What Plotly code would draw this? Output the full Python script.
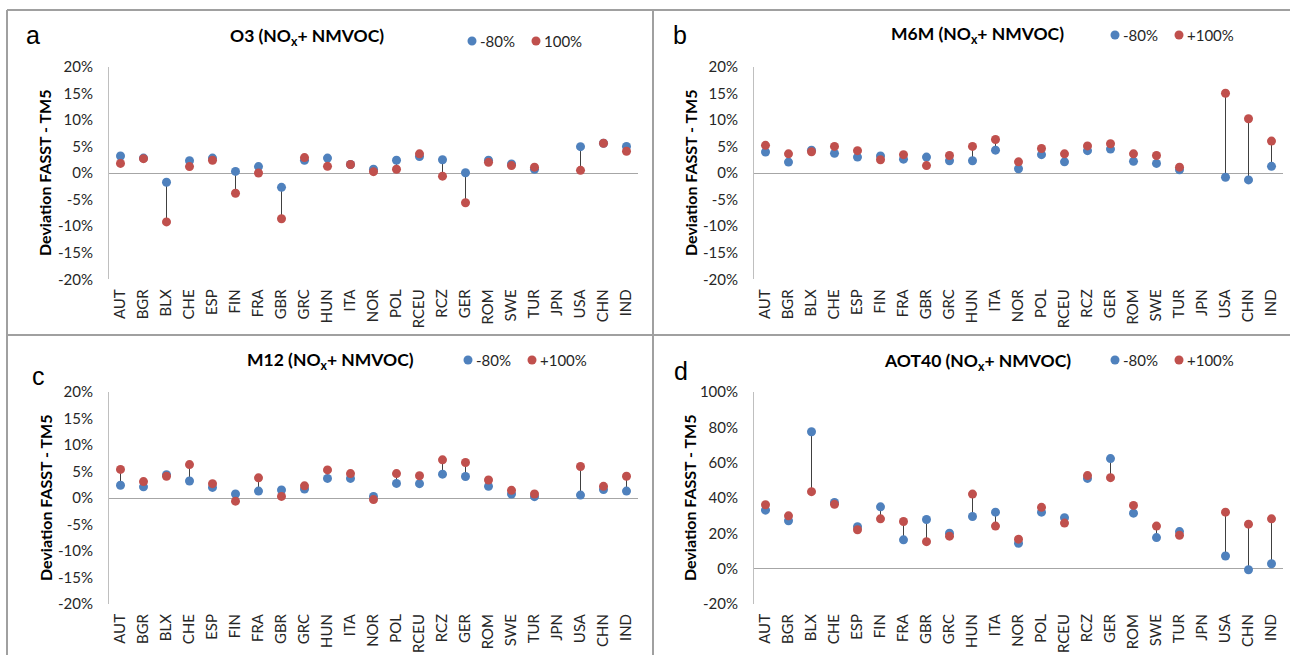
import plotly.graph_objects as go

# Regions on the category axis
regions = ["AUT", "BGR", "BLX", "CHE", "ESP", "FIN", "FRA", "GBR", "GRC", "HUN", "ITA",
           "NOR", "POL", "RCEU", "RCZ", "GER", "ROM", "SWE", "TUR", "JPN", "USA", "CHN", "IND"]

# Deviation FASST - TM5 (%) for the -80% and +100% NOx + NMVOC emission perturbations
o3_minus80 = [3.2, 2.8, -1.75, 2.3, 2.8, 0.3, 1.2, -2.7, 2.4, 2.8, 1.6,
              0.7, 2.4, 3.1, 2.5, 0.05, 2.4, 1.7, 0.7, None, 4.95, 5.6, 5.0]
o3_plus100 = [1.8, 2.7, -9.2, 1.2, 2.4, -3.8, 0.0, -8.6, 2.9, 1.25, 1.6,
              0.25, 0.7, 3.6, -0.6, -5.6, 2.0, 1.4, 1.1, None, 0.5, 5.6, 4.1]

m6m_minus80 = [3.95, 2.05, 4.3, 3.7, 3.0, 3.2, 2.6, 3.0, 2.3, 2.3, 4.3,
               0.8, 3.45, 2.1, 4.2, 4.5, 2.2, 1.8, 0.6, None, -0.8, -1.3, 1.25]
m6m_plus100 = [5.2, 3.6, 4.0, 5.0, 4.2, 2.5, 3.45, 1.4, 3.3, 5.0, 6.3,
               2.1, 4.6, 3.6, 5.1, 5.5, 3.6, 3.3, 1.1, None, 15.0, 10.2, 6.0]

m12_minus80 = [2.4, 2.1, 4.4, 3.2, 2.0, 0.75, 1.3, 1.5, 1.7, 3.7, 3.7,
               0.3, 2.75, 2.7, 4.5, 4.05, 2.2, 0.75, 0.25, None, 0.55, 1.6, 1.3]
m12_plus100 = [5.4, 3.1, 4.1, 6.3, 2.7, -0.6, 3.8, 0.3, 2.3, 5.3, 4.6,
               -0.3, 4.6, 4.2, 7.2, 6.7, 3.4, 1.45, 0.75, None, 5.95, 2.2, 4.1]

aot40_minus80 = [33.1, 27.1, 77.5, 37.5, 23.7, 35.0, 16.3, 27.8, 20.1, 29.5, 32.0,
                 14.4, 32.0, 28.8, 51.1, 62.3, 31.4, 17.6, 21.0, None, 7.2, -0.6, 2.8]
aot40_plus100 = [36.2, 29.9, 43.6, 36.4, 22.0, 28.2, 26.7, 15.3, 18.4, 42.2, 24.1,
                 16.7, 34.7, 25.8, 52.7, 51.5, 35.8, 24.1, 18.9, None, 32.0, 25.2, 28.2]

# Y-axis tick values (%)
pct_ticks = [-20, -15, -10, -5, 0, 5, 10, 15, 20]
aot_ticks = [-20, 0, 20, 40, 60, 80, 100]

W, H = 1290, 655
BLUE = "#4F81BD"
RED = "#C0504D"
TXT = "#262626"
TICK_FONT = dict(family="Lato", size=15, color=TXT)


def fx(p):
    return p / W


def fy(p):
    return 1 - p / H


panels = [
    dict(letter="a", title="O3 (NO<sub>x</sub>+ NMVOC)", lo=o3_minus80, hi=o3_plus100,
         hi_name="100%", ticks=pct_ticks, x0=109, x1=638, y0=66.7, y1=279.3,
         letter_xy=(24, 35), title_xy=(307, 37), legend_xy=(472, 41), ytitle_x=45),
    dict(letter="b", title="M6M (NO<sub>x</sub>+ NMVOC)", lo=m6m_minus80, hi=m6m_plus100,
         hi_name="+100%", ticks=pct_ticks, x0=754, x1=1283, y0=66.7, y1=279.3,
         letter_xy=(671, 35), title_xy=(977, 35), legend_xy=(1115, 35), ytitle_x=691),
    dict(letter="c", title="M12 (NO<sub>x</sub>+ NMVOC)", lo=m12_minus80, hi=m12_plus100,
         hi_name="+100%", ticks=pct_ticks, x0=109, x1=638, y0=392, y1=604,
         letter_xy=(30, 376), title_xy=(330, 361), legend_xy=(468, 360), ytitle_x=45),
    dict(letter="d", title="AOT40 (NO<sub>x</sub>+ NMVOC)", lo=aot40_minus80, hi=aot40_plus100,
         hi_name="+100%", ticks=aot_ticks, x0=754, x1=1283, y0=392, y1=604,
         letter_xy=(672, 371), title_xy=(977, 362), legend_xy=(1115, 360), ytitle_x=689),
]

fig = go.Figure()
annotations = []
shapes = []

for i, p in enumerate(panels, start=1):
    xa = "x" if i == 1 else f"x{i}"
    ya = "y" if i == 1 else f"y{i}"

    # high-low connector between the two perturbation results
    lx, ly = [], []
    for r, a, b in zip(regions, p["lo"], p["hi"]):
        if a is None or b is None:
            continue
        lx += [r, r, None]
        ly += [a, b, None]
    fig.add_trace(go.Scatter(x=lx, y=ly, mode="lines", xaxis=xa, yaxis=ya,
                             line=dict(color="#404040", width=1), showlegend=False,
                             hoverinfo="skip"))
    fig.add_trace(go.Scatter(x=regions, y=p["lo"], mode="markers", name="-80%",
                             xaxis=xa, yaxis=ya, showlegend=False,
                             marker=dict(color=BLUE, size=9)))
    fig.add_trace(go.Scatter(x=regions, y=p["hi"], mode="markers", name=p["hi_name"],
                             xaxis=xa, yaxis=ya, showlegend=False,
                             marker=dict(color=RED, size=9)))

    xkey = "xaxis" if i == 1 else f"xaxis{i}"
    ykey = "yaxis" if i == 1 else f"yaxis{i}"
    fig.update_layout({
        xkey: dict(domain=[fx(p["x0"]), fx(p["x1"])], anchor=ya, type="category",
                   categoryorder="array", categoryarray=regions, automargin=False,
                   range=[-0.5, len(regions) - 0.5], showgrid=False, zeroline=False,
                   showline=False, ticks="", tickangle=-90, tickfont=TICK_FONT,
                   ticklabelstandoff=6),
        ykey: dict(domain=[fy(p["y1"]), fy(p["y0"])], anchor=xa, automargin=False,
                   range=[p["ticks"][0], p["ticks"][-1]], tickvals=p["ticks"],
                   ticktext=[f"{v}%" for v in p["ticks"]], showgrid=False,
                   zeroline=True, zerolinecolor="#A6A6A6", zerolinewidth=1,
                   showline=True, linecolor="#BFBFBF", linewidth=1, ticks="",
                   tickfont=TICK_FONT, ticklabelstandoff=12),
    })

    # panel letter
    lx_, ly_ = p["letter_xy"]
    annotations.append(dict(text=p["letter"], x=fx(lx_), y=fy(ly_), xref="paper",
                            yref="paper", xanchor="left", yanchor="middle", showarrow=False,
                            font=dict(family="Liberation Sans", size=25, color="#000")))
    # chart title
    tx, ty = p["title_xy"]
    annotations.append(dict(text="<b>" + p["title"] + "</b>", x=fx(tx), y=fy(ty),
                            xref="paper", yref="paper", xanchor="center", yanchor="middle",
                            showarrow=False,
                            font=dict(family="Lato", size=17.5, color="#000")))
    # y-axis title
    annotations.append(dict(text="<b>Deviation FASST - TM5</b>", x=fx(p["ytitle_x"]),
                            y=(fy(p["y0"]) + fy(p["y1"])) / 2, xref="paper", yref="paper",
                            xanchor="center", yanchor="middle", textangle=-90,
                            showarrow=False, font=dict(family="Lato", size=16, color="#000")))
    # legend
    gx, gy = p["legend_xy"]
    for dx, col, label in [(0, BLUE, "-80%"), (64, RED, p["hi_name"])]:
        cx = gx + dx
        shapes.append(dict(type="circle", xref="paper", yref="paper",
                           x0=fx(cx - 4.5), x1=fx(cx + 4.5), y0=fy(gy + 4.5), y1=fy(gy - 4.5),
                           fillcolor=col, line=dict(width=0)))
        annotations.append(dict(text=label, x=fx(cx + 6), y=fy(gy), xref="paper",
                                yref="paper", xanchor="left", yanchor="middle",
                                showarrow=False, font=dict(family="Lato", size=15, color=TXT)))

# panel frames
BORDER = dict(color="#A0A0A0", width=2)
for x0, y0, x1, y1 in [(7, 10, W, 10), (7, 10, 7, H), (7, 335, W, 335), (653, 10, 653, H)]:
    shapes.append(dict(type="line", xref="paper", yref="paper", x0=fx(x0), y0=fy(y0),
                       x1=fx(x1), y1=fy(y1), line=BORDER))

fig.update_layout(width=W, height=H, margin=dict(l=0, r=0, t=0, b=0),
                  paper_bgcolor="white", plot_bgcolor="white",
                  annotations=annotations, shapes=shapes, showlegend=False)

fig.write_html("out.html")
